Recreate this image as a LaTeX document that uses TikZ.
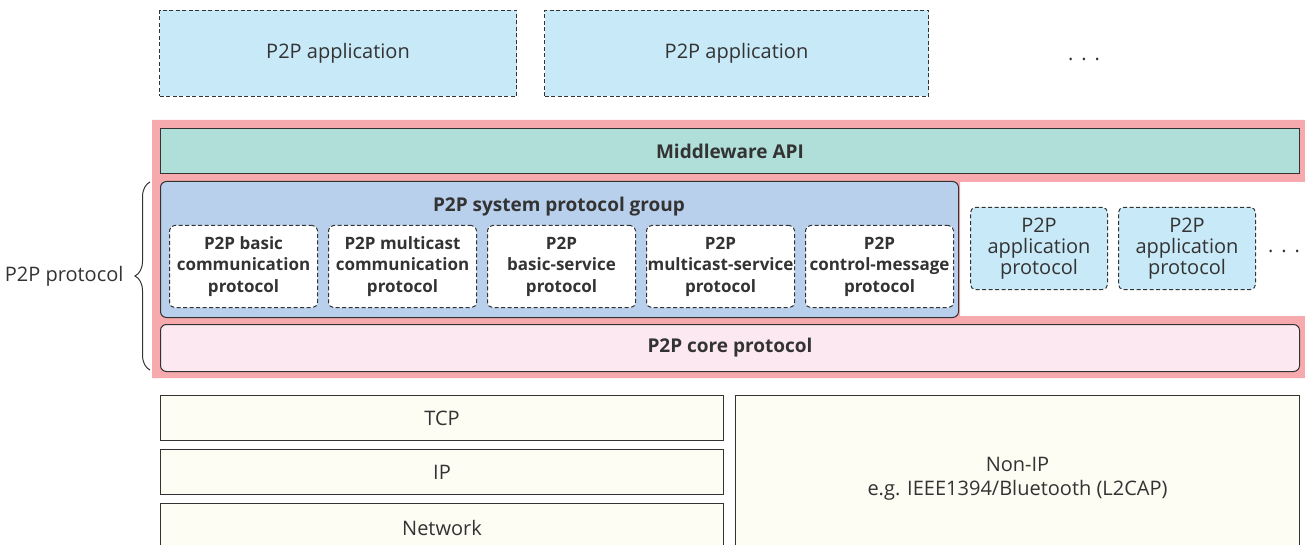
\documentclass[tikz,border=0pt]{standalone}
\usepackage{fontspec}
\setmainfont{Open Sans}
\usetikzlibrary{positioning,decorations.pathreplacing}

\definecolor{appblue}{HTML}{C8E9F8}
\definecolor{apiteal}{HTML}{B0DED9}
\definecolor{groupblue}{HTML}{B9D0EC}
\definecolor{framepink}{HTML}{F6AAAD}
\definecolor{corepink}{HTML}{FCE8F0}
\definecolor{netcream}{HTML}{FEFDF3}
\definecolor{linegray}{HTML}{333333}

\begin{document}
\begin{tikzpicture}[
    x=1pt, y=-1pt,
    layer/.style={
        draw=linegray,
        line width=1pt,
        inner sep=0pt,
        anchor=north west,
        align=center,
        text=linegray,
        font=\fontsize{20}{24}\selectfont
        },
    appbox/.style={
        layer,
        fill=appblue,
        dash pattern=on 4pt off 2.5pt
        },
    protobox/.style={
        layer,
        fill=white,
        rounded corners=5pt,
        dash pattern=on 4pt off 2.5pt,
        minimum width=148pt,
        minimum height=82pt,
        font=\bfseries\fontsize{17}{21.5}\selectfont
        },
    apprbox/.style={
        appbox,
        rounded corners=5pt,
        minimum width=137pt,
        minimum height=82pt,
        font=\fontsize{20}{21}\selectfont
        },
    netbox/.style={
        layer,
        fill=netcream,
        minimum width=563pt,
        minimum height=45pt
        },
    dots/.style={
        text=linegray,
        anchor=base,
        font=\fontsize{20}{24}\selectfont
        },
    titlefont/.style={
        font=\bfseries\fontsize{19}{23}\selectfont
        }
]
\useasboundingbox (0,0) rectangle (1305,545);

% applications on top
\node[appbox, minimum width=357pt, minimum height=86pt] (app1) at (159,10) {P2P application};
\node[appbox, minimum width=384pt, minimum height=86pt] (app2) at (544,10) {P2P application};
\node[dots] (appdots) at (1084,61) {.\hspace{8pt}.\hspace{8pt}.};

% pink frame around the middleware
\fill[framepink] (152,120) -- (1305,120) -- (1305,182) -- (960,182) -- (960,316)
    -- (1305,316) -- (1305,378) -- (152,378) -- cycle;

\node[layer, fill=apiteal, minimum width=1139pt, minimum height=45pt, titlefont] (api) at (160,128) {Middleware API};

% system protocol group
\node[layer, fill=groupblue, rounded corners=6pt, minimum width=798pt, minimum height=136pt] (group) at (160,181) {};
\node[text=linegray, titlefont] (grouptitle) at (559,207) {P2P system protocol group};

\node[protobox] (basic) at (169,225) {P2P basic\\communication\\protocol};
\node[protobox, right=10pt of basic.north east, anchor=north west] (multi) {P2P multicast\\communication\\protocol};
\node[protobox, right=10pt of multi.north east, anchor=north west] (bserv) {P2P\\basic-service\\protocol};
\node[protobox, right=10pt of bserv.north east, anchor=north west] (mserv) {P2P\\multicast-service\\protocol};
\node[protobox, right=10pt of mserv.north east, anchor=north west] (ctrl) {P2P\\control-message\\protocol};

% application protocols
\node[apprbox] (aproto1) at (970,207) {P2P\\application\\protocol};
\node[apprbox, right=10pt of aproto1.north east, anchor=north west] (aproto2) {P2P\\application\\protocol};
\node[dots] (protodots) at (1284,252) {.\hspace{8pt}.\hspace{8pt}.};

% core protocol
\node[layer, fill=corepink, rounded corners=6pt, minimum width=1139pt, minimum height=47pt, titlefont] (core) at (160,324) {P2P core protocol};

% brace
\coordinate (bracetop) at (150,182);
\coordinate (bracebot) at (150,370);
\draw[linegray, line width=1pt, decorate, decoration={brace, amplitude=15pt}]
    (bracebot) -- (bracetop) coordinate[midway, xshift=-15pt] (bracetip);
\node[left=8pt of bracetip, text=linegray, font=\fontsize{20}{24}\selectfont] (protolabel) {P2P protocol};

% lower layers
\node[netbox] (tcp) at (160,395) {TCP};
\node[netbox, below=8pt of tcp.south west, anchor=north west] (ip) {IP};
\node[netbox, below=8pt of ip.south west, anchor=north west, minimum height=48pt] (net) {Network};
\node[layer, fill=netcream, minimum width=564pt, minimum height=167pt] (nonip) at (735,395)
    {Non-IP\\e.g. IEEE1394/Bluetooth (L2CAP)};

\end{tikzpicture}
\end{document}
